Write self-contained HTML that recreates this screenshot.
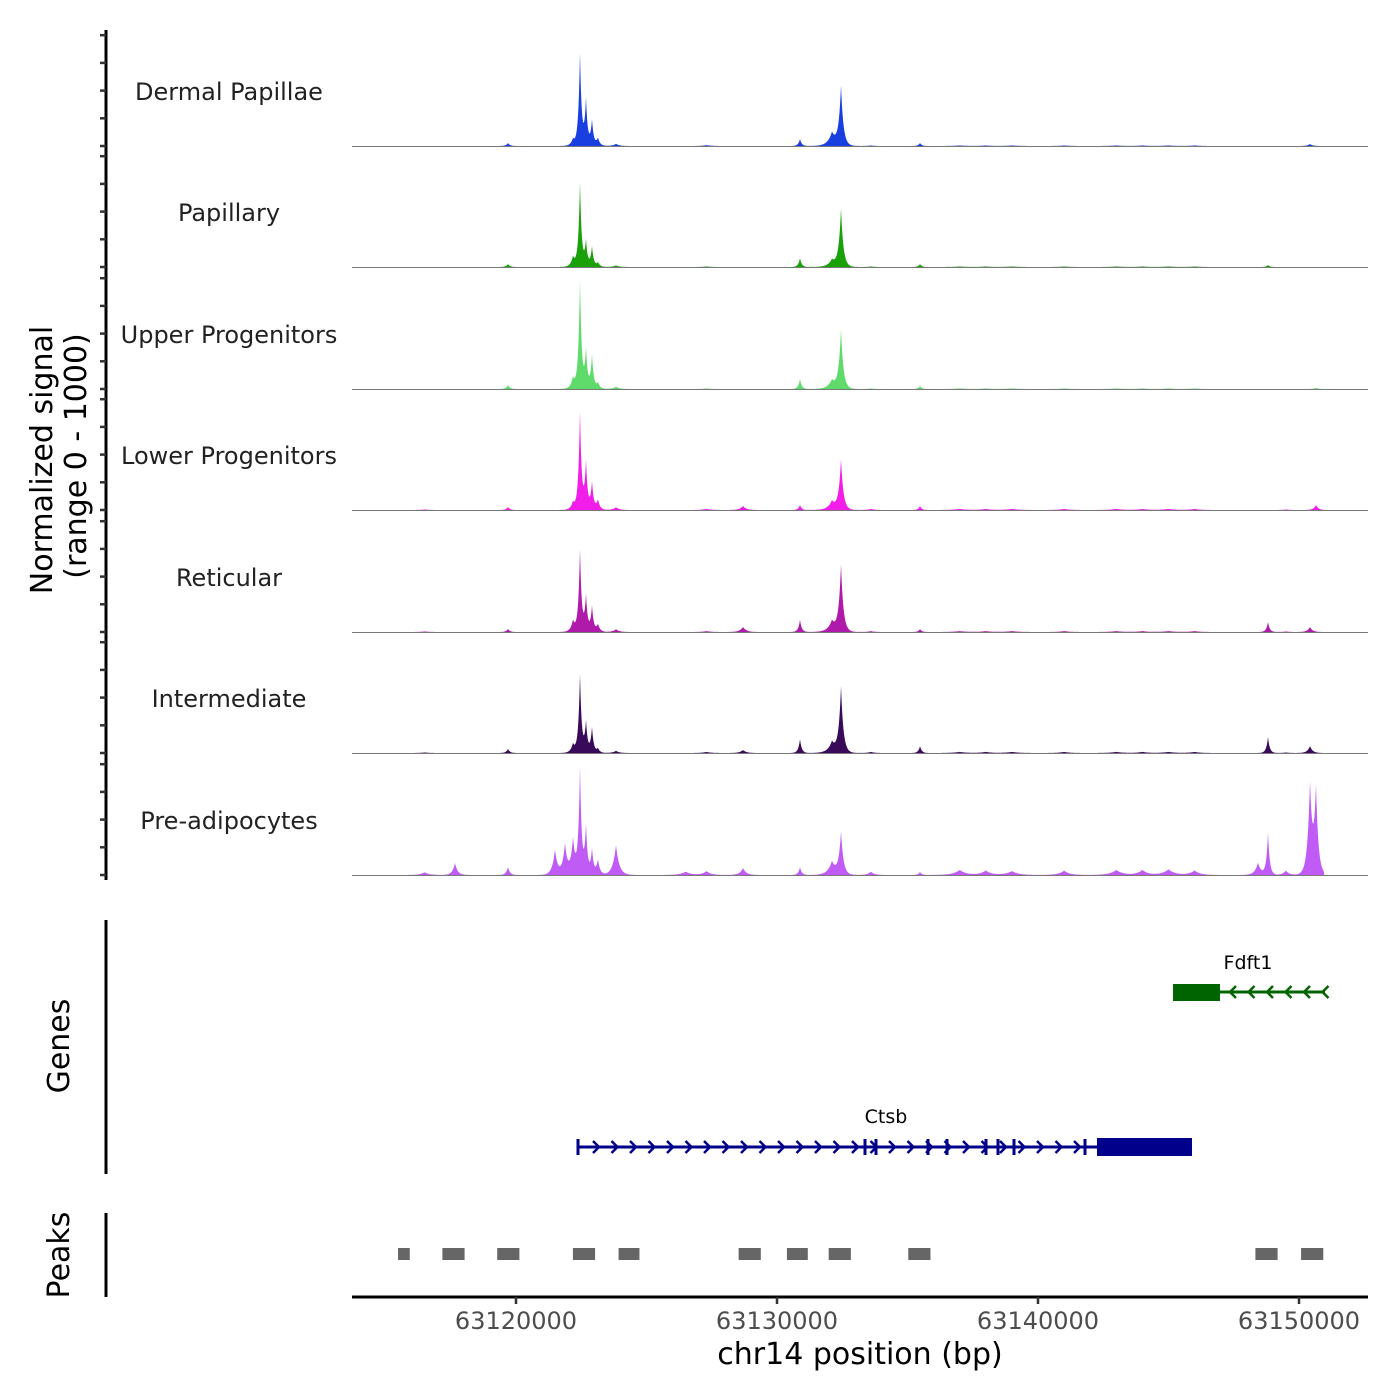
<!DOCTYPE html>
<html><head><meta charset="utf-8"><style>
body{margin:0;background:#fff;}
svg{display:block;font-family:"DejaVu Sans","Liberation Sans",sans-serif;}
</style></head><body>
<svg id="chart" width="1400" height="1400" viewBox="0 0 1400 1400" xmlns="http://www.w3.org/2000/svg">
<rect width="1400" height="1400" fill="#fff"/>
<g id="tracks"></g>
<g id="leftaxis"></g>
<g id="genes"></g>
<g id="peaks"></g>
<g id="xaxis"></g>
<text transform="translate(52,460) rotate(-90)" text-anchor="middle" font-size="30" fill="#000">Normalized signal</text>
<text transform="translate(86,456) rotate(-90)" text-anchor="middle" font-size="30" fill="#000">(range 0 - 1000)</text>
<text transform="translate(69,1046) rotate(-90)" text-anchor="middle" font-size="30" fill="#000">Genes</text>
<text transform="translate(69,1255) rotate(-90)" text-anchor="middle" font-size="30" fill="#000">Peaks</text>
<text x="860" y="1364" text-anchor="middle" font-size="30" fill="#000">chr14 position (bp)</text>
</svg>
<script>
const NS="http://www.w3.org/2000/svg";
const trackNames=["Dermal Papillae","Papillary","Upper Progenitors","Lower Progenitors","Reticular","Intermediate","Pre-adipocytes"];
const trackColors=["#1a3fe0","#1aa10a","#5fdb6b","#f01ee8","#b01aab","#3a0a5a","#c05cf5"];
const peakCenters=[63122452,63122682,63122912,63123140,63122184,63119693,63117663,63130881,63132452,63132107,63135480,63128697,63148812,63150421,63150651,63123831,63121494,63121877,63148430,63143000,63145000,63137000,63126500,63139000,63116500,63127300,63133600,63138000,63141000,63144000,63146000,63149500];
const peakWidths=[80,80,80,100,120,90,120,80,110,200,80,150,80,120,110,150,130,120,150,300,300,300,250,300,200,200,150,250,250,250,250,150];
const signalDermal=[820,405,225,70,60,27,0,63,530,120,27,0,0,18,0,20,0,0,0,5,5,5,0,5,0,8,5,5,5,5,5,0];
const signalPapillary=[750,225,180,40,90,27,0,80,520,65,27,0,18,0,0,15,0,0,0,5,5,5,0,5,0,5,5,5,5,5,5,0];
const signalUpper=[970,340,300,55,100,36,0,90,530,80,27,0,0,0,10,20,0,0,0,5,5,5,0,5,0,5,5,5,5,5,5,0];
const signalLower=[870,420,245,90,70,27,0,45,450,80,36,36,0,0,45,25,0,0,0,10,10,10,0,10,5,10,10,10,10,10,10,5];
const signalReticular=[730,315,225,70,100,27,0,110,600,100,27,45,90,45,0,25,0,0,0,8,8,8,0,8,5,8,8,8,8,8,8,5];
const signalIntermediate=[700,270,225,40,80,36,0,125,590,100,63,27,145,63,0,20,0,0,0,10,10,10,0,10,5,10,10,10,10,10,10,5];
const signalPreadipo=[945,430,225,135,315,72,108,72,380,120,27,63,380,790,740,270,225,270,110,45,50,45,30,35,25,35,30,40,40,45,40,40];
const trackSignals=[signalDermal,signalPapillary,signalUpper,signalLower,signalReticular,signalIntermediate,signalPreadipo];
const xTickValues=[63120000,63130000,63140000,63150000];
const peakStarts=[63115480,63117180,63119280,63122180,63123930,63128530,63130380,63131980,63135030,63148330,63150080];
const peakEnds=[63115930,63118030,63120130,63123030,63124730,63129380,63131180,63132830,63135880,63149180,63150930];

const X=bp=>516+(bp-63120000)*0.0261;
const baselines=[146,267,389,510,632,753,875];
const H=v=>v/1000*111;
const [px0,px1]=[352,1368];
function el(tag,attrs,parent){const e=document.createElementNS(NS,tag);for(const k in attrs)e.setAttribute(k,attrs[k]);parent.appendChild(e);return e;}
const tracks=document.getElementById('tracks');
trackNames.forEach((name,t)=>{
  const g=el('g',{},tracks);
  
  
  const b=baselines[t];const sig=trackSignals[t];
  let d=`M398,${b}`;
  for(let x=398;x<=1324;x+=0.5){
    let v=0;
    peakCenters.forEach((c,i)=>{const dx=Math.abs(X(c)-x)/(peakWidths[i]*0.0261);v+=sig[i]*Math.exp(-dx*1.2);});
    d+=`L${x},${(b-H(v)).toFixed(2)}`;
  }
  d+=`L1324,${b}Z`;
  const p=el('path',{d:d,fill:trackColors[t]},g);
  
  
  const l=el('line',{x1:px0,x2:px1,y1:b+0.5,y2:b+0.5,stroke:'#777','stroke-width':1},g);
  
  
  const tx=el('text',{x:229,y:b-46,'text-anchor':'middle','font-size':24,fill:'#222'},g);
  tx.textContent=name;
  
  
});
const la=document.getElementById('leftaxis');
el('line',{x1:106,x2:106,y1:30,y2:880,stroke:'#000','stroke-width':3},la);
baselines.forEach(b=>{for(let k=0;k<5;k++){el('line',{x1:100,x2:106,y1:b-k*27.7,y2:b-k*27.7,stroke:'#333','stroke-width':2.5},la);}});
el('line',{x1:106,x2:106,y1:920,y2:1174,stroke:'#000','stroke-width':3},la);
el('line',{x1:106,x2:106,y1:1213,y2:1297,stroke:'#000','stroke-width':3},la);
const gg=document.getElementById('genes');
const fd=el('g',{},gg);


el('line',{x1:1173,x2:1325,y1:992,y2:992,stroke:'#006400','stroke-width':3},fd);
el('rect',{x:1173,y:984,width:47,height:17,fill:'#006400'},fd);
for(let x=1232;x<=1325;x+=18.5)el('path',{d:`M${x+4},${986}L${x-2},992L${x+4},998`,fill:'none',stroke:'#006400','stroke-width':2.5},fd);
const ft=el('text',{x:1248,y:969,'text-anchor':'middle','font-size':19,fill:'#000'},fd);ft.textContent='Fdft1';
const cs=el('g',{},gg);


el('line',{x1:578,x2:1192,y1:1147,y2:1147,stroke:'#00008b','stroke-width':3},cs);
el('rect',{x:1097,y:1138,width:95,height:18,fill:'#00008b'},cs);
for(let x=596;x<1090;x+=18.5)el('path',{d:`M${x-3},1141L${x+3},1147L${x-3},1153`,fill:'none',stroke:'#00008b','stroke-width':2.5},cs);
[578,865,876,928,947,986,998,1014,1085].forEach(x=>el('line',{x1:x,x2:x,y1:1139,y2:1155,stroke:'#00008b','stroke-width':3},cs));
const ct=el('text',{x:886,y:1123,'text-anchor':'middle','font-size':19,fill:'#000'},cs);ct.textContent='Ctsb';
const pk=document.getElementById('peaks');
peakStarts.forEach((s,i)=>{
  const r=el('rect',{x:X(s),y:1248,width:X(peakEnds[i])-X(s),height:12,fill:'#666'},pk);
  
  
});
const xa=document.getElementById('xaxis');
el('line',{x1:px0,x2:px1,y1:1297,y2:1297,stroke:'#000','stroke-width':3},xa);
xTickValues.forEach(v=>{
  el('line',{x1:X(v),x2:X(v),y1:1297,y2:1304,stroke:'#333','stroke-width':2.5},xa);
  const t=el('text',{x:X(v),y:1329,'text-anchor':'middle','font-size':24,fill:'#4d4d4d'},xa);
  t.textContent=String(v);
  
  
});
</script>
</body></html>
